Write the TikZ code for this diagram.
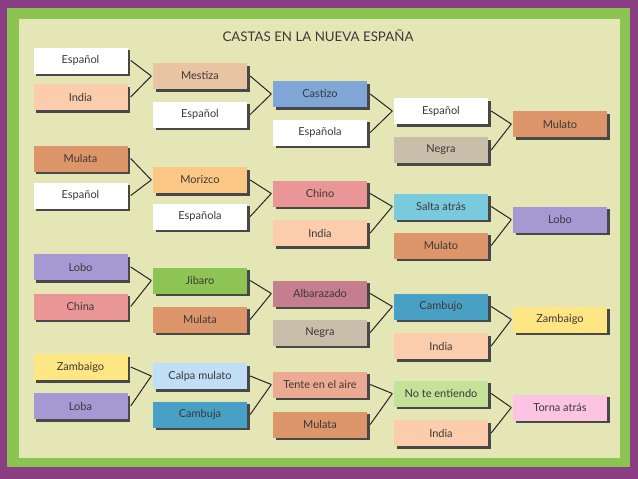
\documentclass[tikz,border=0pt]{standalone}
\usepackage{fontspec}
\setmainfont{Lato}
\usetikzlibrary{shadows}
\definecolor{purpleb}{RGB}{140,62,132}
\definecolor{greenb}{RGB}{140,196,82}
\definecolor{cream}{RGB}{228,230,182}
\definecolor{txt}{RGB}{60,56,56}
\definecolor{shad}{RGB}{72,72,72}
\definecolor{cWhite}{RGB}{255,255,255}
\definecolor{cIndia}{RGB}{252,205,172}
\definecolor{cMestiza}{RGB}{232,196,162}
\definecolor{cCastizo}{RGB}{126,166,214}
\definecolor{cMulato}{RGB}{220,150,106}
\definecolor{cNegra}{RGB}{200,190,170}
\definecolor{cMorizco}{RGB}{250,200,132}
\definecolor{cChino}{RGB}{234,150,150}
\definecolor{cSalta}{RGB}{122,202,222}
\definecolor{cLobo}{RGB}{166,152,210}
\definecolor{cJibaro}{RGB}{142,196,84}
\definecolor{cAlbar}{RGB}{196,126,142}
\definecolor{cCambujo}{RGB}{72,160,196}
\definecolor{cZamb}{RGB}{255,230,132}
\definecolor{cCalpa}{RGB}{192,222,245}
\definecolor{cTente}{RGB}{236,170,146}
\definecolor{cNote}{RGB}{196,226,152}
\definecolor{cTorna}{RGB}{250,196,226}
\tikzset{
  cbox/.style={fill=#1, minimum width=94pt, minimum height=26pt, inner sep=0pt,
    text=txt, font=\fontsize{11}{13}\selectfont,
    general shadow={shadow xshift=2.5pt, shadow yshift=-2.5pt, fill=shad}},
  conn/.style={draw=black!85, line width=1pt},
  titlestyle/.style={text=txt, font=\fontsize{13.3}{15}\selectfont, inner sep=0pt}
}
\begin{document}
\begin{tikzpicture}[x=1pt,y=-1pt]
\useasboundingbox (0,0) rectangle (638,479);
\fill[purpleb] (0,0) rectangle (638,479);
\fill[greenb] (7,8) rectangle (630,467);
\fill[cream] (19,19) rectangle (620,458);
\node[titlestyle] (title) at (318,36) {CASTAS EN LA NUEVA ESPAÑA};
% column 1
\node[cbox=cWhite]  (a1) at (80.5,60.5) {Español};
\node[cbox=cIndia]  (a2) at (80.5,97) {India};
\node[cbox=cMulato] (a3) at (80.5,158.5) {Mulata};
\node[cbox=cWhite]  (a4) at (80.5,195.5) {Español};
\node[cbox=cLobo]   (a5) at (80.5,267) {Lobo};
\node[cbox=cChino]  (a6) at (80.5,306.5) {China};
\node[cbox=cZamb]   (a7) at (80.5,367) {Zambaigo};
\node[cbox=cLobo]   (a8) at (80.5,406) {Loba};
% column 2
\node[cbox=cMestiza] (b1) at (200,76) {Mestiza};
\node[cbox=cWhite]   (b2) at (200,114.5) {Español};
\node[cbox=cMorizco] (b3) at (200,180) {Morizco};
\node[cbox=cWhite]   (b4) at (200,216.5) {Española};
\node[cbox=cJibaro]  (b5) at (200,280.5) {Jibaro};
\node[cbox=cMulato]  (b6) at (200,319.5) {Mulata};
\node[cbox=cCalpa]   (b7) at (200,376) {Calpa mulato};
\node[cbox=cCambujo] (b8) at (200,414.5) {Cambuja};
% column 3
\node[cbox=cCastizo] (c1) at (320,94) {Castizo};
\node[cbox=cWhite]   (c2) at (320,132.5) {Española};
\node[cbox=cChino]   (c3) at (320,193.5) {Chino};
\node[cbox=cIndia]   (c4) at (320,233) {India};
\node[cbox=cAlbar]   (c5) at (320,293.5) {Albarazado};
\node[cbox=cNegra]   (c6) at (320,332.5) {Negra};
\node[cbox=cTente]   (c7) at (320,384.5) {Tente en el aire};
\node[cbox=cMulato]  (c8) at (320,424.5) {Mulata};
% column 4
\node[cbox=cWhite]   (d1) at (441,111) {Español};
\node[cbox=cNegra]   (d2) at (441,150) {Negra};
\node[cbox=cSalta]   (d3) at (441,206.5) {Salta atrás};
\node[cbox=cMulato]  (d4) at (441,245.5) {Mulato};
\node[cbox=cCambujo] (d5) at (441,306.5) {Cambujo};
\node[cbox=cIndia]   (d6) at (441,346) {India};
\node[cbox=cNote]    (d7) at (441,393.5) {No te entiendo};
\node[cbox=cIndia]   (d8) at (441,433) {India};
% column 5
\node[cbox=cMulato] (e1) at (560,124) {Mulato};
\node[cbox=cLobo]   (e2) at (560,219.5) {Lobo};
\node[cbox=cZamb]   (e3) at (560,319.5) {Zambaigo};
\node[cbox=cTorna]  (e4) at (560,407.5) {Torna atrás};
% connectors
\foreach \s/\t in {a1/b1,a2/b1,a3/b3,a4/b3,a5/b5,a6/b5,a7/b7,a8/b7,
                   b1/c1,b2/c1,b3/c3,b4/c3,b5/c5,b6/c5,b7/c7,b8/c7,
                   c1/d1,c2/d1,c3/d3,c4/d3,c5/d5,c6/d5,c7/d7,c8/d7,
                   d1/e1,d2/e1,d3/e2,d4/e2,d5/e3,d6/e3,d7/e4,d8/e4}
  \draw[conn] ([xshift=3pt]\s.east) -- ([xshift=-1.5pt]\t.west);
\end{tikzpicture}
\end{document}
